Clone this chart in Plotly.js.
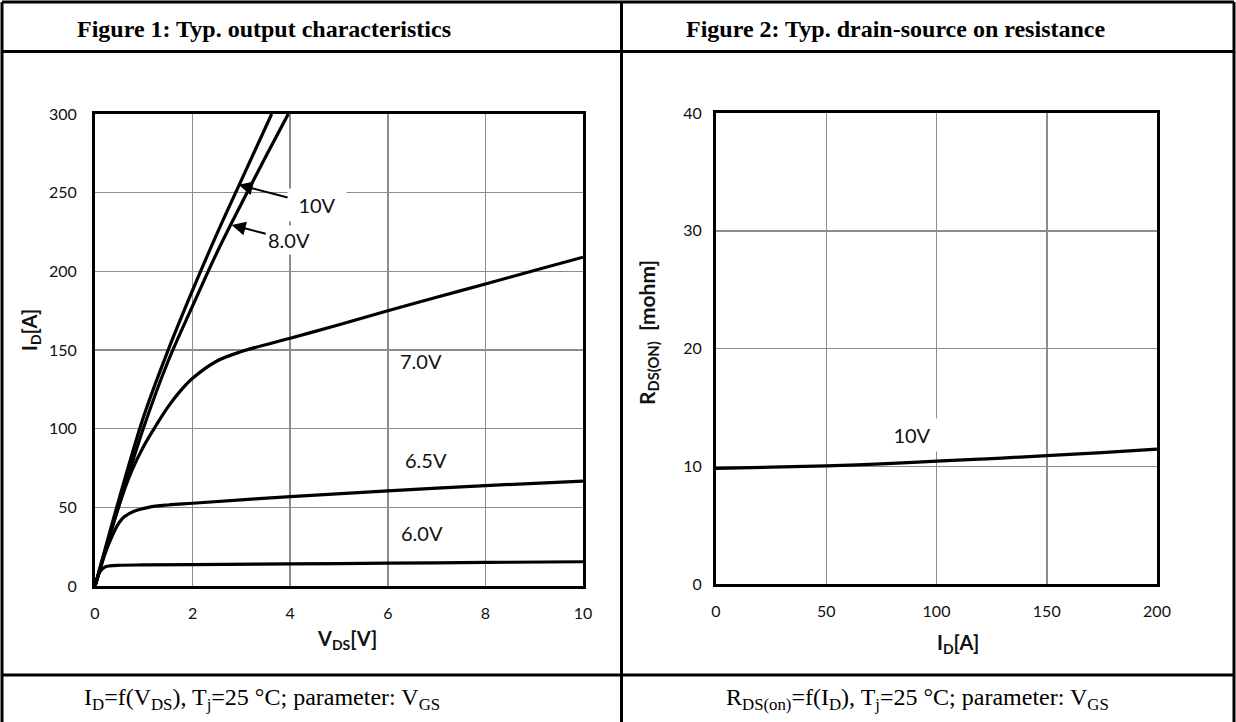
<!DOCTYPE html>
<html>
<head>
<meta charset="utf-8">
<script src="https://cdn.plot.ly/plotly-3.0.1.min.js"></script>
<style>
html,body{margin:0;padding:0;background:#fff;}
#chart{width:1236px;height:722px;}
</style>
</head>
<body>
<div id="chart"></div>
<script>
// ---- Figure 1 data: ID vs VDS for several VGS ----
const vds10 = [0, 0.5, 1, 1.5, 2, 2.5, 3, 3.62];
const id10  = [0, 56, 108, 150, 188, 224, 258, 300];
const vds8  = [0, 0.5, 1, 1.5, 2, 2.5, 3, 3.5, 3.96];
const id8   = [0, 52, 101, 143, 178, 212, 243, 273, 300];
const vds7  = [0, 0.25, 0.5, 0.75, 1, 1.25, 1.5, 1.75, 2, 2.5, 3, 4, 5, 6, 7, 8, 9, 10];
const id7   = [0, 27, 52, 73, 89, 102, 114, 124, 132, 143, 149, 157.5, 166, 175, 183.5, 192, 200.5, 209];
const vds65 = [0, 0.1, 0.2, 0.3, 0.4, 0.5, 0.6, 0.8, 1.1, 1.5, 2, 4, 6, 8, 10];
const id65  = [0, 10, 20, 28, 35, 40.5, 44, 47.5, 50, 51.5, 52.6, 56.8, 60.4, 63.8, 66.7];
const vds6  = [0, 0.05, 0.1, 0.2, 0.3, 0.5, 1, 2, 4, 6, 8, 10];
const id6   = [0, 5, 9, 12, 12.8, 13.2, 13.4, 13.6, 14, 14.5, 15, 15.4];
const fig1XTicks = [0, 2, 4, 6, 8, 10];
const fig1YTicks = [0, 50, 100, 150, 200, 250, 300];

// ---- Figure 2 data: RDS(on) vs ID ----
const idR  = [0, 25, 50, 75, 100, 125, 150, 175, 200];
const rdsR = [9.82, 9.92, 10.04, 10.2, 10.44, 10.65, 10.9, 11.15, 11.46];
const fig2XTicks = [0, 50, 100, 150, 200];
const fig2YTicks = [0, 10, 20, 30, 40];

const W = 1236, H = 722;
const px = v => v / W;
const py = v => 1 - v / H;

const lineStyle = {color: '#000', width: 3.2, shape: 'spline', smoothing: 1};
function tr(x, y, xa, ya) {
  return {x: x, y: y, xaxis: xa, yaxis: ya, type: 'scatter', mode: 'lines',
          line: lineStyle, hoverinfo: 'skip', showlegend: false};
}
const data = [
  tr(vds10, id10, 'x', 'y'),
  tr(vds8, id8, 'x', 'y'),
  tr(vds7, id7, 'x', 'y'),
  tr(vds65, id65, 'x', 'y'),
  tr(vds6, id6, 'x', 'y'),
  tr(idR, rdsR, 'x2', 'y2')
];

const tickFont = {family: 'Lato, "Open Sans", sans-serif', size: 16, color: '#111'};
function axis(domain, range, ticks, anchor, standoff) {
  return {domain: domain, range: range, tickvals: ticks, ticktext: ticks.map(String),
          showgrid: true, gridcolor: '#8c8c8c', gridwidth: 1.5, zeroline: false,
          showline: true, linecolor: '#000', linewidth: 3, mirror: true,
          ticks: '', tickfont: tickFont, ticklabelstandoff: standoff,
          anchor: anchor, fixedrange: true};
}

const lblFont = {family: 'Lato, "Open Sans", sans-serif', size: 20, color: '#111'};
const titleFont = {family: 'Lato, "Open Sans", sans-serif', size: 20, color: '#111', weight: 'bold'};
const titleFontR = {family: 'Lato, "Open Sans", sans-serif', size: 21, color: '#111', weight: 'bold'};
const headFont = {family: '"Liberation Serif", "Times New Roman", serif', size: 24, color: '#000', weight: 'bold'};
const capFont = {family: '"Liberation Serif", "Times New Roman", serif', size: 24, color: '#000'};

const annotations = [
  // headers
  {xref: 'paper', yref: 'paper', x: px(264), y: py(29), text: '<b>Figure 1: Typ. output characteristics</b>', showarrow: false, font: headFont, xanchor: 'center', yanchor: 'middle'},
  {xref: 'paper', yref: 'paper', x: px(895), y: py(29), text: '<b>Figure 2: Typ. drain-source on resistance</b>', showarrow: false, font: headFont, xanchor: 'center', yanchor: 'middle'},
  // captions
  {xref: 'paper', yref: 'paper', x: px(262), y: py(699), text: 'I<sub>D</sub>=f(V<sub>DS</sub>), T<sub>j</sub>=25 °C; parameter: V<sub>GS</sub>', showarrow: false, font: capFont, xanchor: 'center', yanchor: 'middle'},
  {xref: 'paper', yref: 'paper', x: px(917), y: py(699), text: 'R<sub>DS(on)</sub>=f(I<sub>D</sub>), T<sub>j</sub>=25 °C; parameter: V<sub>GS</sub>', showarrow: false, font: capFont, xanchor: 'center', yanchor: 'middle'},
  // axis titles
  {xref: 'paper', yref: 'paper', x: px(347), y: py(639), text: '<b>V<sub>DS</sub>[V]</b>', showarrow: false, font: titleFont, xanchor: 'center', yanchor: 'middle'},
  {xref: 'paper', yref: 'paper', x: px(958), y: py(643), text: '<b>I<sub>D</sub>[A]</b>', showarrow: false, font: titleFont, xanchor: 'center', yanchor: 'middle'},
  {xref: 'paper', yref: 'paper', x: px(30), y: py(330), text: '<b>I<sub>D</sub>[A]</b>', showarrow: false, font: titleFont, textangle: -90, xanchor: 'center', yanchor: 'middle'},
  {xref: 'paper', yref: 'paper', x: px(648), y: py(333), text: '<b>R<sub>DS(ON)</sub>  [mohm]</b>', showarrow: false, font: titleFontR, textangle: -90, xanchor: 'center', yanchor: 'middle'},
  // curve labels fig 1
  {xref: 'x', yref: 'y', x: 2.945, y: 255, axref: 'x', ayref: 'y', ax: 4.55, ay: 242, text: '10V', showarrow: true,
   arrowhead: 2, arrowsize: 1.4, arrowwidth: 2, arrowcolor: '#000', font: lblFont, bgcolor: '#fff', borderpad: 0, width: 58, height: 32},
  {xref: 'x', yref: 'y', x: 2.8, y: 229.5, axref: 'x', ayref: 'y', ax: 3.98, ay: 220, text: '8.0V', showarrow: true,
   arrowhead: 2, arrowsize: 1.4, arrowwidth: 2, arrowcolor: '#000', font: lblFont, bgcolor: '#fff', borderpad: 2},
  {xref: 'x', yref: 'y', x: 6.68, y: 143, text: '7.0V', showarrow: false, font: lblFont},
  {xref: 'x', yref: 'y', x: 6.78, y: 80, text: '6.5V', showarrow: false, font: lblFont},
  {xref: 'x', yref: 'y', x: 6.70, y: 34, text: '6.0V', showarrow: false, font: lblFont},
  // curve label fig 2
  {xref: 'x2', yref: 'y2', x: 89, y: 12.65, text: '10V', showarrow: false, font: lblFont, bgcolor: '#fff', borderpad: 0, width: 56, height: 32}
];

const border = {color: '#000', width: 3};
function seg(x0, y0, x1, y1) {
  return {type: 'line', xref: 'paper', yref: 'paper', x0: px(x0), y0: py(y0), x1: px(x1), y1: py(y1), line: border, layer: 'above'};
}
const shapes = [
  seg(2, 2, 1234, 2),
  seg(2, 2, 2, 722),
  seg(1234, 2, 1234, 722),
  seg(2, 51.5, 1234, 51.5),
  seg(2, 675, 1234, 675),
  seg(621.5, 2, 621.5, 722)
];

const layout = {
  width: W, height: H,
  margin: {l: 0, r: 0, t: 0, b: 0, pad: 0},
  paper_bgcolor: '#fff', plot_bgcolor: '#fff',
  showlegend: false,
  xaxis:  axis([px(95), px(583)], [0, 10], fig1XTicks, 'y', 11),
  yaxis:  axis([py(586), py(114)], [0, 300], fig1YTicks, 'x', 12),
  xaxis2: axis([px(716), px(1157)], [0, 200], fig2XTicks, 'y2', 11),
  yaxis2: axis([py(584), py(113)], [0, 40], fig2YTicks, 'x2', 8),
  annotations: annotations,
  shapes: shapes
};

Plotly.newPlot('chart', data, layout, {staticPlot: true, displayModeBar: false});
</script>
</body>
</html>
